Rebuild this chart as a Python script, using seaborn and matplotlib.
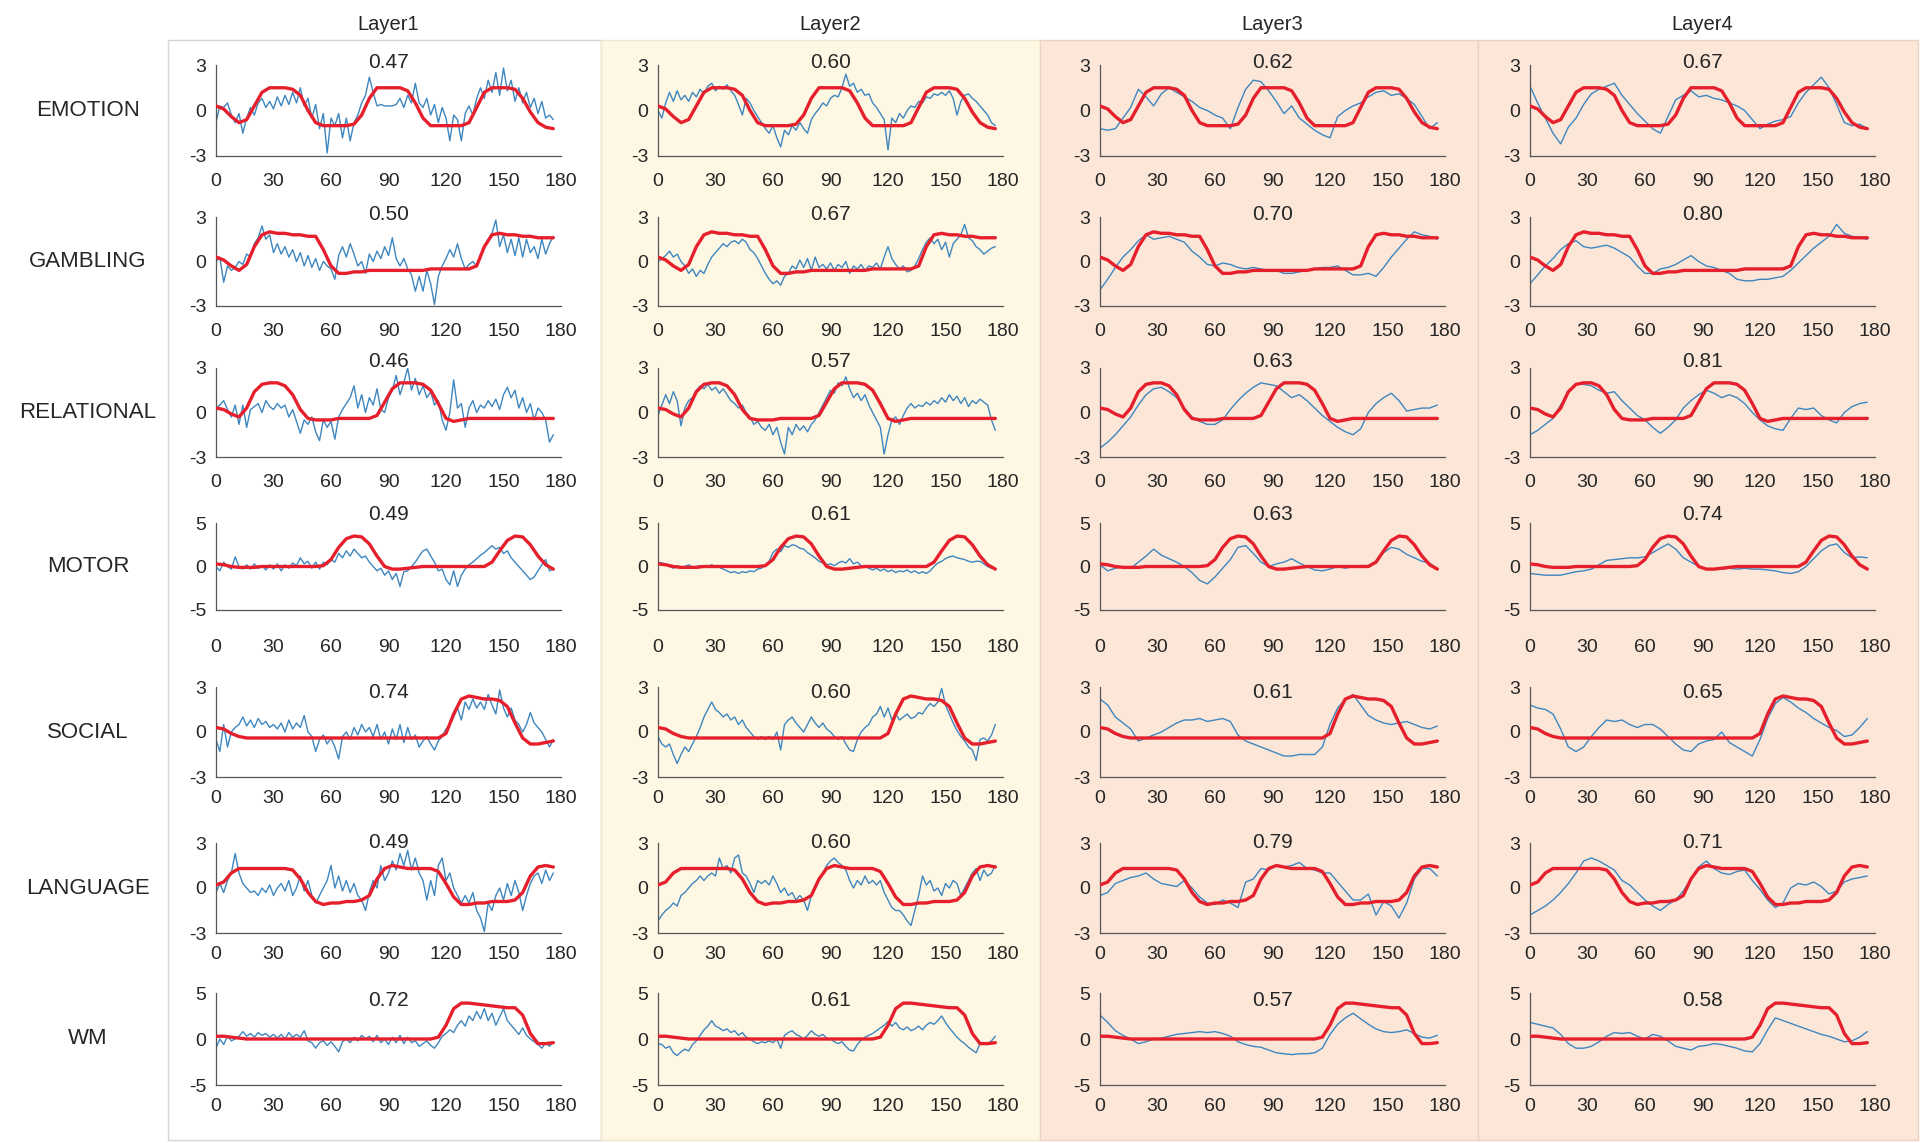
import numpy as np
import pandas as pd
import matplotlib
matplotlib.use("Agg")
import matplotlib.pyplot as plt
from matplotlib.patches import Rectangle
import seaborn as sns

# ---------------- data ----------------
TASKS = ["EMOTION", "GAMBLING", "RELATIONAL", "MOTOR", "SOCIAL", "LANGUAGE", "WM"]
LAYERS = ["Layer1", "Layer2", "Layer3", "Layer4"]
X_TICKS = [0, 30, 60, 90, 120, 150, 180]
Y_LIM = {"EMOTION": 3, "GAMBLING": 3, "RELATIONAL": 3, "MOTOR": 5,
         "SOCIAL": 3, "LANGUAGE": 3, "WM": 5}

R_EMOTION = ["0.47", "0.60", "0.62", "0.67"]
R_GAMBLING = ["0.50", "0.67", "0.70", "0.80"]
R_RELATIONAL = ["0.46", "0.57", "0.63", "0.81"]
R_MOTOR = ["0.49", "0.61", "0.63", "0.74"]
R_SOCIAL = ["0.74", "0.60", "0.61", "0.65"]
R_LANGUAGE = ["0.49", "0.60", "0.79", "0.71"]
R_WM = ["0.72", "0.61", "0.57", "0.58"]

# frame spacing of the sampled values
STEP_TASK = 4
STEP_LAYER = [2, 2, 4, 4]

# task regressors (red), one value every 4 frames
EMOTION_TASK = [0.3, 0.1, -0.4, -0.8, -0.6, 0.3, 1.2, 1.5, 1.5, 1.5,
                1.4, 1.0, 0.0, -0.8, -1.0, -1.0, -1.0, -1.0, -0.9, -0.3,
                0.8, 1.5, 1.5, 1.5, 1.5, 1.3, 0.5, -0.5, -1.0, -1.0,
                -1.0, -1.0, -1.0, -0.8, 0.2, 1.2, 1.5, 1.5, 1.5, 1.4,
                0.8, -0.1, -0.8, -1.1, -1.2]
GAMBLING_TASK = [0.3, 0.1, -0.3, -0.6, -0.2, 1.0, 1.8, 2.0, 1.9, 1.9,
                 1.8, 1.8, 1.7, 1.7, 0.8, -0.3, -0.8, -0.8, -0.7, -0.7,
                 -0.6, -0.6, -0.6, -0.6, -0.6, -0.6, -0.6, -0.6, -0.5, -0.5,
                 -0.5, -0.5, -0.5, -0.5, -0.3, 1.0, 1.8, 1.9, 1.8, 1.8,
                 1.7, 1.7, 1.6, 1.6, 1.6]
RELATIONAL_TASK = [0.3, 0.2, -0.1, -0.3, 0.3, 1.4, 1.9, 2.0, 2.0, 1.8,
                   1.2, 0.2, -0.4, -0.5, -0.5, -0.5, -0.4, -0.4, -0.4, -0.4,
                   -0.4, -0.2, 0.7, 1.6, 2.0, 2.0, 2.0, 1.9, 1.5, 0.6,
                   -0.4, -0.6, -0.5, -0.4, -0.4, -0.4, -0.4, -0.4, -0.4, -0.4,
                   -0.4, -0.4, -0.4, -0.4, -0.4]
MOTOR_TASK = [0.3, 0.2, 0.0, -0.1, -0.1, -0.1, 0.0, 0.0, 0.0, 0.0,
              0.0, 0.0, 0.0, 0.0, 0.1, 0.8, 2.2, 3.2, 3.5, 3.4,
              2.6, 1.2, 0.0, -0.3, -0.3, -0.2, -0.1, 0.0, 0.0, 0.0,
              0.0, 0.0, 0.0, 0.0, 0.0, 0.0, 0.5, 1.8, 3.0, 3.5,
              3.4, 2.5, 1.2, 0.2, -0.3]
SOCIAL_TASK = [0.3, 0.2, -0.1, -0.3, -0.4, -0.4, -0.4, -0.4, -0.4, -0.4,
               -0.4, -0.4, -0.4, -0.4, -0.4, -0.4, -0.4, -0.4, -0.4, -0.4,
               -0.4, -0.4, -0.4, -0.4, -0.4, -0.4, -0.4, -0.4, -0.4, -0.4,
               -0.1, 1.2, 2.2, 2.4, 2.3, 2.2, 2.2, 2.1, 1.7, 0.6,
               -0.4, -0.8, -0.8, -0.7, -0.6]
LANGUAGE_TASK = [0.2, 0.4, 1.0, 1.3, 1.3, 1.3, 1.3, 1.3, 1.3, 1.3,
                 1.2, 0.6, -0.3, -0.9, -1.1, -1.0, -1.0, -0.9, -0.9, -0.8,
                 -0.5, 0.6, 1.3, 1.5, 1.4, 1.3, 1.3, 1.3, 1.3, 1.1,
                 0.3, -0.6, -1.1, -1.1, -1.0, -1.0, -0.9, -0.9, -0.9, -0.8,
                 -0.3, 0.8, 1.4, 1.5, 1.4]
WM_TASK = [0.3, 0.3, 0.2, 0.1, 0.0, 0.0, 0.0, 0.0, 0.0, 0.0,
           0.0, 0.0, 0.0, 0.0, 0.0, 0.0, 0.0, 0.0, 0.0, 0.0,
           0.0, 0.0, 0.0, 0.0, 0.0, 0.0, 0.0, 0.0, 0.0, 0.2,
           1.5, 3.3, 3.9, 3.9, 3.8, 3.7, 3.6, 3.5, 3.4, 3.4,
           2.6, 0.6, -0.5, -0.5, -0.4]

# recovered signals (blue). Layer1/2: every 2 frames, Layer3/4: every 4 frames
EMOTION_L1 = [-0.8, 0.3, 0.2, 0.5, -0.3, -0.8, -0.2, -1.5, -0.5, 0.2,
              -0.3, 0.5, 0.8, 0.2, 0.6, 0.1, 0.9, 0.3, 1.0, 0.4,
              1.2, 0.5, 1.5, 0.3, 0.8, -0.5, 0.4, -1.2, -0.2, -2.8,
              -0.5, -1.0, -0.2, -1.8, -0.5, -2.0, -0.8, -0.3, 0.5, 1.0,
              2.2, 1.2, 0.3, 0.4, 0.3, 0.3, 0.3, 0.4, 0.8, 0.2,
              1.0, 0.5, 1.8, 0.5, 0.2, 0.8, -0.3, 0.4, -0.8, 0.2,
              -0.5, -2.0, -0.3, -0.6, -2.0, -0.2, 0.3, -0.3, 0.8, 1.5,
              0.8, 2.0, 1.2, 2.5, 1.0, 2.8, 1.3, 2.0, 0.6, 1.5,
              0.5, 1.2, 0.2, 0.8, -0.2, 0.6, -0.5, -0.3, -0.6]
EMOTION_L2 = [0.0, -0.5, 0.5, 1.2, 0.6, 1.3, 0.7, 1.0, 0.6, 1.2,
              0.9, 1.4, 1.1, 1.6, 1.8, 1.3, 1.6, 1.4, 1.7, 1.3,
              1.0, 0.4, -0.3, 0.8, 0.5, 0.0, -0.4, -0.8, -1.2, -1.5,
              -1.0, -1.8, -2.4, -1.3, -1.6, -1.0, -1.3, -0.8, -1.2, -1.5,
              -0.6, -0.2, 0.1, 0.5, 0.3, 0.8, 1.0, 0.9, 1.5, 2.4,
              1.6, 1.8, 1.2, 1.4, 1.0, 1.1, 0.5, 0.2, -0.2, -0.6,
              -2.6, -0.5, -0.8, -0.2, -0.5, 0.0, 0.3, 0.2, 0.6, 0.5,
              0.9, 0.8, 1.1, 1.0, 1.2, 1.0, 1.3, 0.8, -0.3, 0.6,
              1.0, 1.1, 0.8, 0.6, 0.3, 0.0, -0.3, -0.8, -1.0]
EMOTION_L3 = [-1.2, -1.3, -1.2, -0.5, 0.2, 1.4, 0.9, 0.3, 1.1, 1.5,
              1.2, 0.9, 0.6, 0.2, 0.0, -0.3, -0.5, -1.2, 0.2, 1.4,
              2.0, 1.9, 1.3, 0.6, -0.2, 0.3, -0.5, -0.9, -1.3, -1.6,
              -1.8, -0.4, 0.0, 0.3, 0.5, 0.9, 1.2, 1.3, 1.0, 1.1,
              0.8, 0.4, -0.4, -1.2, -0.8]
EMOTION_L4 = [1.6, 0.5, -0.5, -1.5, -2.2, -1.1, -0.5, 0.4, 1.1, 1.4,
              1.6, 1.8, 1.0, 0.4, -0.2, -0.7, -1.2, -1.5, -0.4, 0.7,
              1.0, 1.3, 0.9, 1.0, 0.8, 0.7, 0.5, 0.3, 0.0, -0.6,
              -1.2, -0.9, -0.7, -0.6, -0.4, 0.5, 1.2, 1.7, 2.2, 1.5,
              0.4, -0.8, -1.0, -0.9, -1.2]

GAMBLING_L1 = [0.0, 0.3, -1.4, -0.3, -0.6, -0.4, 0.0, -0.2, 0.5, 0.3,
               1.2, 1.6, 2.4, 1.5, 1.8, 0.6, 1.2, 0.5, 1.0, 0.3,
               0.8, 0.0, 0.6, -0.3, 0.4, -0.4, 0.2, -0.6, 0.0, -0.3,
               -0.5, -1.2, 0.4, 1.0, 0.3, 1.2, 0.5, -0.3, 0.0, -0.8,
               0.5, 0.0, 0.7, 0.2, 1.0, 0.4, 1.6, 0.2, -0.3, 0.2,
               -0.5, -0.9, -2.0, -1.0, -2.0, -0.6, -1.5, -2.9, -1.0, -0.3,
               0.2, 0.8, 0.3, 1.2, 0.2, -0.5, -0.2, 0.0, -0.3, 0.4,
               1.0, 1.5, 1.9, 2.8, 1.0, 1.8, 0.6, 1.5, 0.4, 1.6,
               0.3, 1.5, 0.6, 1.0, 0.2, 1.5, 0.5, 1.2, 1.7]
GAMBLING_L2 = [0.0, 0.2, 0.4, 0.7, 0.3, 0.5, 0.0, -0.3, -0.8, -0.5,
               -1.0, -0.6, -0.8, -0.2, 0.3, 0.6, 0.9, 1.2, 1.0, 1.3,
               1.4, 1.2, 1.5, 1.3, 0.8, 0.6, 0.2, -0.3, -0.8, -1.2,
               -1.5, -1.3, -1.6, -1.0, -0.8, -0.3, -0.5, 0.1, -0.4, 0.2,
               -0.6, 0.3, -0.4, -0.2, -0.5, -0.1, -0.6, -0.2, -0.4, 0.0,
               -0.8, -0.3, -0.5, -0.2, -0.6, -0.3, -0.4, -0.1, -0.5, 0.3,
               1.0, 0.2, -0.2, -0.5, -0.3, -0.7, -0.6, -0.3, 0.2, 0.8,
               1.3, 1.6, 1.2, 1.5, 0.8, 1.3, 0.3, 1.2, 1.5, 1.8,
               2.5, 1.6, 1.4, 1.0, 0.8, 0.5, 0.7, 0.9, 1.0]
GAMBLING_L3 = [-1.9, -1.2, -0.4, 0.3, 0.8, 1.4, 1.8, 1.5, 1.6, 1.7,
               1.5, 1.3, 0.7, 0.3, -0.2, -0.3, -0.1, -0.2, -0.4, -0.5,
               -0.4, -0.5, -0.6, -0.6, -0.8, -0.8, -0.7, -0.6, -0.5, -0.4,
               -0.4, -0.3, -0.6, -0.9, -0.9, -0.8, -1.0, -0.4, 0.3, 0.9,
               1.5, 2.0, 1.8, 1.7, 1.5]
GAMBLING_L4 = [-1.5, -0.9, -0.3, 0.2, 0.8, 1.2, 1.4, 1.0, 0.9, 1.0,
               1.1, 0.9, 0.6, 0.3, -0.3, -0.8, -0.8, -0.5, -0.4, -0.2,
               0.1, 0.4, 0.0, -0.3, -0.4, -0.6, -0.8, -1.2, -1.3, -1.3,
               -1.2, -1.2, -1.1, -1.0, -0.6, -0.1, 0.4, 0.9, 1.3, 1.7,
               2.5, 1.9, 1.7, 1.6, 1.5]

RELATIONAL_L1 = [0.3, 0.5, 0.8, 0.2, -0.3, 0.5, -0.8, 0.5, -1.0, 0.2,
                 0.4, 0.6, 0.0, 0.8, 0.4, 0.2, 0.6, 0.3, 0.5, -0.3,
                 0.2, -0.6, -1.4, -0.5, -0.8, -0.3, -1.3, -1.9, -0.5, -1.0,
                 -0.6, -1.8, -0.3, 0.2, 0.6, 1.0, 1.8, 0.3, 1.2, 0.0,
                 1.0, 0.5, 1.6, 0.2, 0.0, 1.0, 1.5, 2.5, 1.2, 2.0,
                 3.0, 1.5, 2.3, 1.2, 1.8, 1.0, 1.4, 0.5, 0.8, -0.5,
                 -1.2, 0.0, 2.2, 0.3, 0.6, -1.0, 0.3, 0.8, 0.0, 0.5,
                 0.3, 0.8, 0.4, 0.9, 0.2, 1.2, 1.7, 1.0, 1.5, 0.3,
                 1.0, 0.0, 0.6, -0.5, 0.3, 0.0, -0.5, -2.0, -1.5]
RELATIONAL_L2 = [-0.2, 0.5, 1.2, 0.6, 1.4, 0.8, -0.9, 0.3, 0.8, 1.0,
                 1.5, 1.8, 1.6, 1.9, 1.5, 1.7, 1.3, 1.6, 1.2, 0.8,
                 0.6, 0.3, 0.5, 0.0, -0.3, -0.8, -0.6, -1.0, -1.2, -0.8,
                 -1.5, -1.0, -2.0, -2.8, -1.0, -1.5, -0.8, -1.2, -0.9, -1.3,
                 -0.8, -0.5, 0.0, 0.5, 1.0, 1.5, 1.3, 2.0, 1.8, 2.4,
                 1.6, 1.0, 1.3, 0.8, 1.2, 0.5, 0.0, -0.5, -1.0, -2.8,
                 -1.5, -0.5, -0.3, -0.8, -0.2, 0.3, 0.6, 0.3, 0.5, 0.4,
                 0.7, 0.5, 0.8, 0.6, 1.0, 0.7, 1.2, 0.8, 1.1, 0.6,
                 1.0, 0.4, 0.8, 0.6, 0.9, 0.7, 0.5, -0.5, -1.2]
RELATIONAL_L3 = [-2.4, -2.0, -1.5, -0.9, -0.3, 0.5, 1.2, 1.6, 1.7, 1.4,
                 1.0, 0.3, -0.3, -0.6, -0.8, -0.8, -0.5, 0.2, 0.8, 1.3,
                 1.7, 2.0, 1.9, 1.8, 1.4, 1.0, 1.2, 0.8, 0.3, -0.2,
                 -0.6, -1.0, -1.3, -1.5, -1.1, 0.0, 0.6, 1.0, 1.3, 0.8,
                 0.1, 0.2, 0.3, 0.3, 0.5]
RELATIONAL_L4 = [-1.5, -1.2, -0.8, -0.4, 0.5, 1.4, 1.9, 1.9, 1.8, 1.5,
                 1.3, 1.4, 0.8, 0.3, -0.2, -0.5, -1.0, -1.4, -1.0, -0.5,
                 0.3, 0.8, 1.2, 1.5, 1.3, 1.0, 1.2, 1.0, 0.6, 0.0,
                 -0.5, -0.9, -1.1, -1.2, -0.4, 0.3, 0.2, 0.3, -0.2, -0.5,
                 -0.7, 0.0, 0.4, 0.6, 0.7]

MOTOR_L1 = [0.0, -0.5, 0.5, 0.0, -0.3, 1.1, 0.0, -0.3, 0.2, -0.3,
            0.3, -0.2, 0.1, -0.4, 0.2, -0.3, 0.3, -0.5, 0.2, -0.2,
            0.4, 0.1, 1.0, 0.3, 0.6, -0.2, 0.5, -0.3, 0.5, 0.2,
            0.8, 0.5, 1.5, 1.0, 1.8, 1.2, 2.0, 1.5, 1.0, 1.2,
            0.5, 0.0, -0.5, -0.2, -1.0, -0.5, -1.5, -0.8, -2.3, -0.6,
            -0.5, 0.0, 0.5, 1.2, 1.8, 2.0, 1.2, 0.5, -0.5, -0.3,
            -1.5, -2.1, -0.5, -2.3, -1.0, -0.3, 0.2, 0.5, 0.9, 1.3,
            1.6, 2.0, 2.4, 2.0, 2.2, 1.5, 1.8, 1.0, 0.5, 0.0,
            -0.5, -1.0, -1.5, -1.2, -0.5, 0.2, 0.8, -0.5, -0.3]
MOTOR_L2 = [0.5, 0.4, 0.3, 0.0, -0.2, 0.1, -0.1, 0.0, 0.2, -0.1,
            0.0, 0.1, -0.1, 0.0, 0.2, 0.0, -0.1, -0.3, -0.5, -0.7,
            -0.6, -0.8, -0.6, -0.7, -0.5, -0.6, -0.3, -0.2, 0.2, 0.6,
            1.6, 2.0, 1.7, 2.4, 2.2, 2.5, 2.4, 2.1, 2.0, 1.6,
            1.3, 1.0, 0.6, 0.4, 0.2, 0.3, 0.1, 0.4, 0.6, 0.4,
            0.9, 0.3, 0.5, 0.1, 0.0, -0.2, -0.4, -0.2, -0.5, -0.3,
            -0.6, -0.4, -0.7, -0.5, -0.6, -0.4, -0.7, -0.5, -0.8, -0.6,
            -0.8, -0.5, 0.0, 0.4, 0.6, 0.9, 1.1, 1.2, 1.0, 0.9,
            0.8, 0.6, 0.5, 0.6, 0.6, 0.3, 0.0, -0.2, -0.3]
MOTOR_L3 = [0.2, -0.5, -0.2, 0.0, -0.2, 0.5, 1.2, 2.0, 1.3, 0.9,
            0.5, 0.0, -0.7, -1.6, -2.0, -1.2, -0.2, 0.8, 2.2, 2.4,
            1.5, 0.5, 0.0, 0.3, 0.5, 0.9, 0.4, 0.0, -0.4, -0.5,
            -0.3, 0.0, -0.2, 0.0, 0.1, 0.1, 0.6, 1.6, 2.2, 2.0,
            1.4, 1.0, 0.6, 0.4, -0.3]
MOTOR_L4 = [-0.8, -0.9, -1.0, -1.0, -1.0, -0.8, -0.6, -0.5, -0.3, 0.2,
            0.7, 0.8, 0.9, 1.0, 1.0, 1.1, 1.6, 2.1, 2.6, 2.0,
            1.0, 0.5, 0.0, -0.3, -0.3, -0.3, -0.2, -0.3, -0.2, -0.3,
            -0.3, -0.4, -0.5, -0.7, -0.8, -0.6, 0.0, 0.9, 1.8, 2.4,
            2.6, 1.6, 1.0, 1.1, 1.0]

SOCIAL_L1 = [-0.5, -1.3, 0.5, -1.0, 0.0, 0.3, 0.5, 1.0, 0.4, 0.8,
             0.3, 0.9, 0.5, 0.7, 0.3, 0.5, 0.2, 0.6, 0.0, 0.8,
             0.2, 0.6, 0.3, 1.1, 0.0, -0.3, -1.3, -0.5, -0.2, -0.8,
             -0.4, -1.0, -1.8, -0.3, 0.0, -0.5, 0.3, -0.2, 0.5, 0.0,
             0.3, -0.3, 0.5, -0.5, 0.0, -0.8, 0.2, -0.5, 0.5, -0.7,
             0.3, -0.5, -0.2, -1.0, -0.6, -0.3, -0.8, -1.2, -0.6, -0.3,
             0.2, 0.5, 1.0, 1.6, 0.8, 2.0, 1.5, 2.2, 1.6, 2.0,
             1.5, 2.5, 1.8, 1.2, 2.8, 1.6, 1.0, 1.6, 0.8, 0.5,
             0.0, 0.5, 1.3, 0.6, 0.3, 0.0, -0.5, -1.0, -0.5]
SOCIAL_L2 = [-0.3, -0.8, -1.0, -0.8, -1.5, -2.1, -1.5, -1.0, -1.3, -0.8,
             -0.3, 0.3, 1.0, 1.5, 2.0, 1.5, 1.3, 1.0, 1.2, 0.8,
             1.0, 0.5, 0.8, 0.3, 0.0, -0.3, -0.5, -0.3, -0.5, -0.3,
             -0.5, 0.0, -1.2, 0.5, 0.8, 1.0, 0.6, 0.3, 0.0, 0.5,
             1.0, 0.6, 0.3, 0.6, 0.2, 0.0, -0.3, -0.5, -0.3, -0.8,
             -1.2, -1.3, -0.5, 0.0, 0.3, 0.5, 1.0, 1.2, 1.7, 1.0,
             1.6, 0.8, 1.2, 0.8, 1.0, 1.2, 0.9, 1.0, 1.3, 1.2,
             1.6, 1.9, 1.7, 2.0, 2.9, 1.8, 1.2, 0.6, 0.1, -0.3,
             -0.6, -1.0, -1.2, -1.9, -0.5, -0.4, -0.6, -0.2, 0.5]
SOCIAL_L3 = [2.2, 1.8, 1.0, 0.6, 0.2, -0.6, -0.4, -0.2, 0.0, 0.3,
             0.6, 0.8, 0.8, 0.9, 0.7, 0.8, 0.9, 0.7, -0.2, -0.6,
             -0.8, -1.0, -1.2, -1.4, -1.6, -1.6, -1.5, -1.5, -1.5, -1.0,
             0.5, 1.6, 2.2, 2.5, 1.8, 1.1, 0.8, 0.6, 0.5, 0.6,
             0.7, 0.5, 0.3, 0.2, 0.4]
SOCIAL_L4 = [1.8, 1.6, 1.5, 1.2, 0.2, -1.0, -1.3, -1.0, -0.3, 0.3,
             0.8, 0.7, 0.8, 0.5, 0.3, 0.5, 0.5, 0.2, -0.3, -0.8,
             -1.2, -1.3, -0.8, -0.6, -0.5, 0.0, -0.7, -1.0, -1.3, -1.6,
             -0.5, 0.9, 1.9, 2.3, 2.0, 1.6, 1.3, 0.9, 0.6, 0.3,
             0.1, -0.3, -0.2, 0.3, 0.9]

LANGUAGE_L1 = [-0.3, 0.3, -0.3, 0.5, 1.0, 2.3, 1.0, 0.3, 0.0, -0.3,
               -0.2, -0.5, 0.0, -0.3, 0.2, -0.5, 0.0, 0.3, -0.2, 0.5,
               -0.5, 0.0, 0.8, -0.2, 0.5, -0.5, -1.0, -0.5, 0.0, 0.5,
               1.5, 0.0, 0.8, -0.2, 0.5, -0.3, 0.3, -0.5, -0.8, -1.5,
               -0.3, 0.5, 0.0, 1.5, 0.5, 1.0, 1.8, 1.2, 2.3, 1.5,
               2.5, 1.2, 2.0, 1.0, 0.5, -0.8, 0.5, -0.5, 1.5, 2.0,
               0.5, 1.0, 0.0, -0.5, -1.0, -0.5, -1.0, -0.3, -1.5, -2.0,
               -2.9, -1.0, -1.5, -0.5, 0.0, -0.8, 0.3, -0.5, 0.5, -0.3,
               -1.5, -0.5, 0.3, 0.8, 1.0, 0.3, 1.2, 0.5, 1.0]
LANGUAGE_L2 = [-2.2, -1.8, -1.5, -1.3, -1.0, -1.2, -0.5, -0.3, 0.0, 0.3,
               0.5, 0.8, 0.5, 0.8, 1.0, 0.8, 2.0, 1.3, 1.5, 1.0,
               2.0, 2.2, 1.0, 0.8, 0.3, -0.3, 0.5, 0.3, 0.5, 0.2,
               0.8, 0.3, -0.3, 0.0, -0.5, -0.3, -0.8, -0.5, -0.8, -1.5,
               -0.5, 0.0, 0.5, 1.0, 1.5, 1.8, 2.0, 1.7, 1.5, 1.2,
               0.5, 0.0, 0.5, 0.2, 0.8, 0.3, 0.5, 0.2, 0.5, -0.3,
               -0.8, -1.3, -1.5, -1.5, -1.8, -2.2, -2.5, -1.5, -0.5, 0.8,
               0.2, 0.5, -0.2, 0.0, -0.5, 0.3, 0.0, 0.5, 0.3, -0.5,
               0.0, 0.5, 1.0, 1.3, 0.5, 1.2, 0.8, 1.0, 1.5]
LANGUAGE_L3 = [-0.5, -0.3, 0.3, 0.5, 0.7, 0.8, 1.0, 0.6, 0.3, 0.2,
               0.1, 0.5, 0.0, -0.6, -1.0, -1.1, -0.8, -1.0, -1.3, 0.4,
               0.6, 1.3, 1.2, 1.5, 1.4, 1.5, 1.7, 1.3, 1.2, 1.0,
               1.0, 0.4, -0.2, -0.8, -0.8, -0.4, -1.8, -0.9, -1.2, -2.0,
               -1.0, 0.6, 1.3, 1.3, 0.8]
LANGUAGE_L4 = [-1.8, -1.5, -1.2, -0.8, -0.3, 0.3, 1.0, 1.8, 2.0, 1.8,
               1.5, 1.2, 0.5, 0.2, -0.3, -0.8, -1.2, -1.5, -1.1, -0.8,
               -0.2, 0.6, 1.4, 1.8, 1.3, 1.0, 0.9, 1.1, 1.2, 0.5,
               -0.1, -0.8, -1.3, -1.0, 0.0, 0.3, 0.2, 0.4, 0.1, -0.4,
               -0.2, 0.4, 0.6, 0.7, 0.8]

WM_L1 = [-1.0, 0.0, -0.6, 0.3, -0.2, 0.0, 0.3, 0.8, 0.3, 0.6,
         0.2, 0.7, 0.4, 0.6, 0.2, 0.5, 0.1, 0.5, 0.0, 0.7,
         0.2, 0.5, 0.2, 0.9, -0.2, -0.4, -1.0, -0.4, -0.2, -0.7,
         -0.3, -0.8, -1.4, -0.3, 0.0, -0.4, 0.2, -0.2, 0.4, 0.0,
         0.3, -0.3, 0.4, -0.4, 0.0, -0.6, 0.2, -0.4, 0.4, -0.5,
         0.2, -0.4, -0.2, -0.8, -0.5, -0.2, -0.7, -1.0, -0.4, 0.3,
         0.6, 1.0, 0.7, 1.5, 2.0, 1.4, 2.5, 2.0, 3.0, 2.2,
         3.3, 2.0, 2.8, 1.5, 2.4, 3.3, 2.0, 1.5, 1.0, 0.5,
         1.2, 0.4, 0.0, -0.3, -0.6, -1.0, -0.4, -0.8, -0.3]
WM_L2 = [-0.5, -0.6, -1.0, -0.8, -1.5, -1.8, -1.4, -1.1, -1.3, -0.6,
         -0.2, 0.4, 1.0, 1.4, 2.0, 1.4, 1.2, 0.9, 1.1, 0.7,
         0.9, 0.4, 0.7, 0.2, 0.0, -0.3, -0.5, -0.3, -0.4, -0.2,
         -0.4, 0.0, -1.0, 0.4, 0.7, 0.9, 0.5, 0.3, 0.0, 0.4,
         0.9, 0.5, 0.3, 0.5, 0.1, 0.0, -0.3, -0.5, -0.3, -0.8,
         -1.2, -1.3, -0.6, -0.1, 0.2, 0.4, 0.6, 0.9, 1.2, 1.5,
         1.9, 1.4, 1.8, 1.2, 1.0, 1.3, 0.9, 1.1, 1.4, 1.0,
         1.5, 1.8, 1.6, 2.0, 2.5, 1.8, 1.2, 0.7, 0.2, -0.2,
         -0.5, -0.9, -1.2, -1.5, -0.5, -0.4, -0.5, -0.2, 0.3]
WM_L3 = [2.6, 1.8, 0.9, 0.4, 0.0, -0.5, -0.3, 0.0, 0.1, 0.3,
         0.5, 0.6, 0.7, 0.8, 0.7, 0.8, 0.6, 0.3, -0.3, -0.6,
         -0.8, -0.9, -1.2, -1.5, -1.6, -1.7, -1.6, -1.6, -1.5, -1.0,
         0.5, 1.6, 2.3, 2.8, 2.2, 1.6, 1.1, 0.8, 0.7, 0.8,
         1.0, 0.6, 0.2, 0.1, 0.4]
WM_L4 = [1.8, 1.6, 1.4, 1.2, 0.5, -0.5, -1.0, -1.0, -0.8, -0.3,
         0.3, 0.7, 0.6, 0.7, 0.3, 0.0, 0.5, 0.3, -0.2, -0.8,
         -1.0, -1.2, -0.8, -0.7, -0.5, -0.6, -0.8, -1.0, -1.3, -1.4,
         -0.5, 1.0, 2.3, 2.0, 1.7, 1.4, 1.1, 0.8, 0.5, 0.3,
         0.0, -0.3, -0.2, 0.2, 0.8]

TASK_CURVES = {"EMOTION": EMOTION_TASK, "GAMBLING": GAMBLING_TASK,
               "RELATIONAL": RELATIONAL_TASK, "MOTOR": MOTOR_TASK,
               "SOCIAL": SOCIAL_TASK, "LANGUAGE": LANGUAGE_TASK, "WM": WM_TASK}
SIGNALS = {"EMOTION": [EMOTION_L1, EMOTION_L2, EMOTION_L3, EMOTION_L4],
           "GAMBLING": [GAMBLING_L1, GAMBLING_L2, GAMBLING_L3, GAMBLING_L4],
           "RELATIONAL": [RELATIONAL_L1, RELATIONAL_L2, RELATIONAL_L3, RELATIONAL_L4],
           "MOTOR": [MOTOR_L1, MOTOR_L2, MOTOR_L3, MOTOR_L4],
           "SOCIAL": [SOCIAL_L1, SOCIAL_L2, SOCIAL_L3, SOCIAL_L4],
           "LANGUAGE": [LANGUAGE_L1, LANGUAGE_L2, LANGUAGE_L3, LANGUAGE_L4],
           "WM": [WM_L1, WM_L2, WM_L3, WM_L4]}
R_VALUES = {"EMOTION": R_EMOTION, "GAMBLING": R_GAMBLING, "RELATIONAL": R_RELATIONAL,
            "MOTOR": R_MOTOR, "SOCIAL": R_SOCIAL, "LANGUAGE": R_LANGUAGE, "WM": R_WM}

# ---------------- style / layout ----------------
sns.set_theme(style="white")
plt.rcParams["font.family"] = ["Liberation Sans", "DejaVu Sans"]
plt.rcParams["axes.unicode_minus"] = False

W, H = 1923, 1143
RED = "#e5202c"
BLUE = "#3e86bf"
SPINE = "#555555"
TXT = "#262626"

COL_X0 = [216, 658, 1100, 1530]
AX_W = 345
ROW_PX = [(65, 156), (217, 306), (368, 457), (523, 610), (687, 777), (843, 933), (993, 1085)]
TITLE_Y = [63, 215, 362, 515, 692, 842, 1000]
XPAD = [12, 12, 12, 21, 9.5, 9.5, 9.5]
BG = [(168, 601, "#ffffff", "#d6d6d6"), (601, 1040, "#fdf7e3", "#efe6cc"),
      (1040, 1478, "#fbe6d8", "#ecd2c2"), (1478, 1918, "#fbe6d8", "#ecd2c2")]

fig = plt.figure(figsize=(W / 100, H / 100), dpi=100)
fig.patch.set_facecolor("white")

for x0, x1, fc, ec in BG:
    fig.add_artist(Rectangle((x0 / W, 1 - 1140 / H), (x1 - x0) / W, (1140 - 40) / H,
                             transform=fig.transFigure, facecolor=fc, edgecolor=ec,
                             linewidth=1.0, zorder=-10))

for j, layer in enumerate(LAYERS):
    fig.text((COL_X0[j] + AX_W / 2) / W, 1 - 25 / H, layer, ha="center", va="center",
             fontsize=14.5, color=TXT)

for i, task in enumerate(TASKS):
    top, bot = ROW_PX[i]
    lim = Y_LIM[task]
    fig.text(88 / W, 1 - ((top + bot) / 2) / H, task, ha="center", va="center",
             fontsize=16, color=TXT)
    red = TASK_CURVES[task]
    df_red = pd.DataFrame({"frame": np.arange(len(red)) * STEP_TASK, "value": red})
    for j, layer in enumerate(LAYERS):
        ax = fig.add_axes([COL_X0[j] / W, 1 - bot / H, AX_W / W, (bot - top) / H])
        ax.patch.set_alpha(0)
        sig = SIGNALS[task][j]
        df_sig = pd.DataFrame({"frame": np.arange(len(sig)) * STEP_LAYER[j], "value": sig})
        sns.lineplot(data=df_sig, x="frame", y="value", ax=ax, color=BLUE,
                     linewidth=1.0, zorder=2)
        sns.lineplot(data=df_red, x="frame", y="value", ax=ax, color=RED,
                     linewidth=2.4, zorder=3)
        ax.set_xlim(0, 180)
        ax.set_ylim(-lim, lim)
        ax.set_xticks(X_TICKS)
        ax.set_yticks([-lim, 0, lim])
        ax.set_xlabel("")
        ax.set_ylabel("")
        for s in ["top", "right"]:
            ax.spines[s].set_visible(False)
        for s in ["left", "bottom"]:
            ax.spines[s].set_color(SPINE)
            ax.spines[s].set_linewidth(0.9)
        ax.tick_params(axis="both", direction="in", length=4, width=0.8,
                       color=SPINE, labelsize=14, labelcolor=TXT)
        ax.tick_params(axis="x", pad=XPAD[i])
        ax.tick_params(axis="y", pad=7)
        fig.text((COL_X0[j] + AX_W / 2) / W, 1 - TITLE_Y[i] / H, R_VALUES[task][j],
                 ha="center", va="center", fontsize=15, color=TXT)

fig.savefig("out.png", dpi=100, facecolor="white")
